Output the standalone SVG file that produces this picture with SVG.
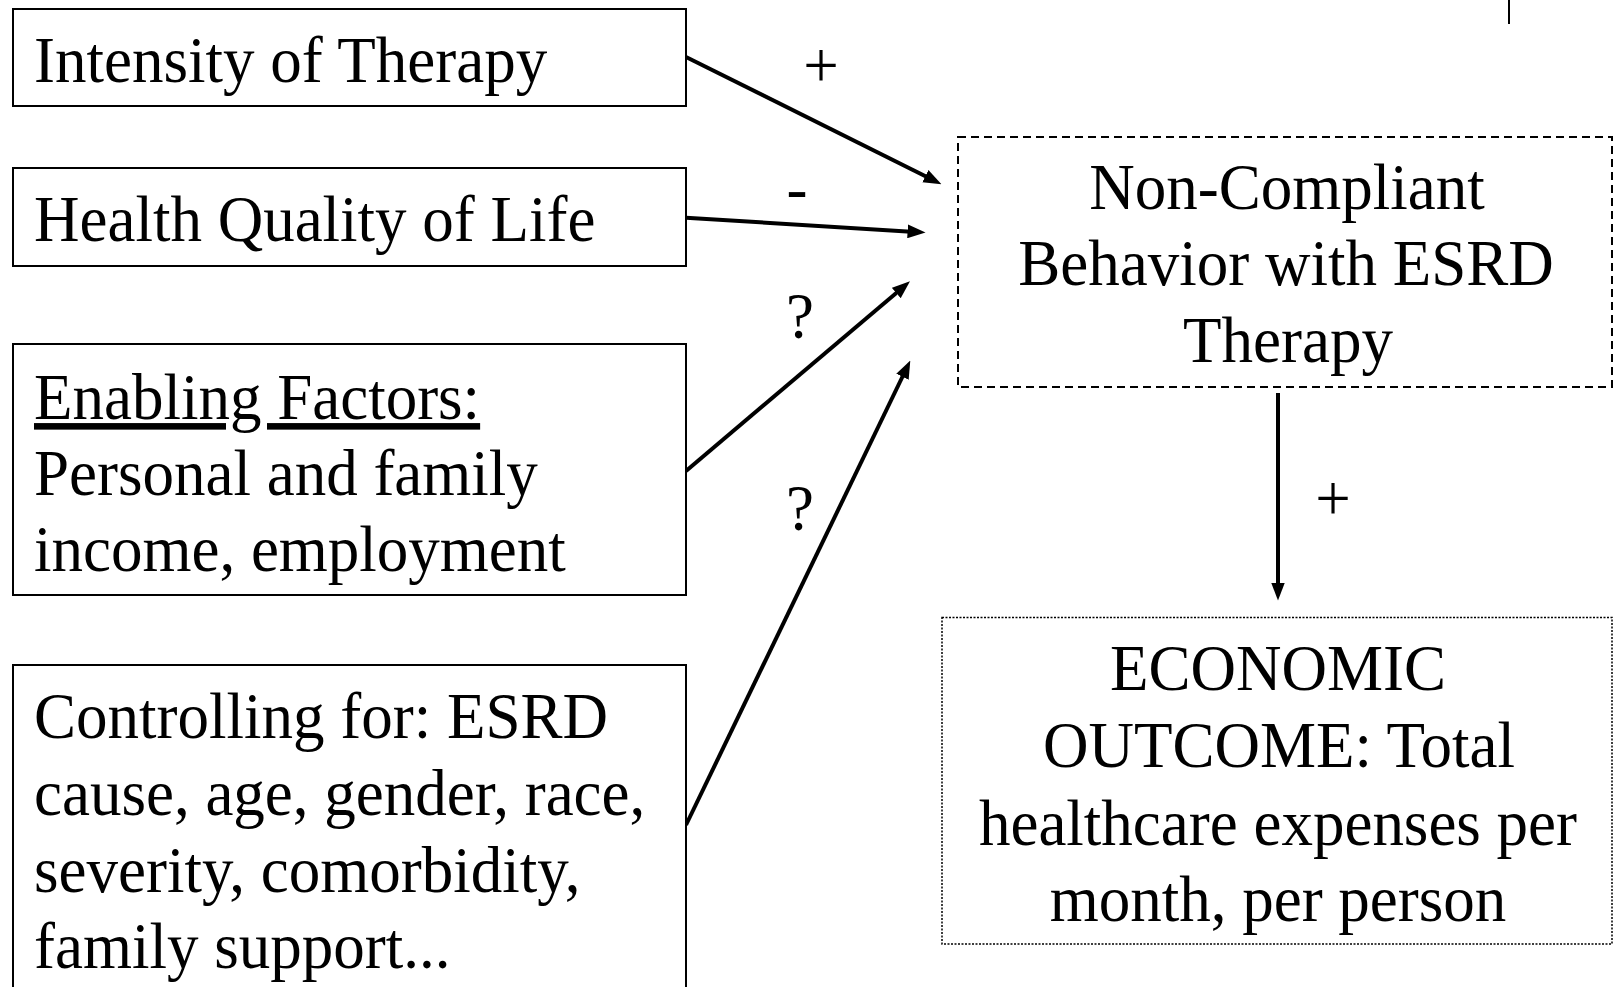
<svg xmlns="http://www.w3.org/2000/svg" width="1614" height="987" viewBox="0 0 1614 987">
<defs>
<style>
.box{fill:#fff;stroke:#000;stroke-width:2}
.dash{fill:#fff;stroke:#000;stroke-width:2;stroke-dasharray:8 5}
.dot{fill:#fff;stroke:#000;stroke-width:1.5;stroke-dasharray:2 1.5}
.t{font-family:"Liberation Serif","Times New Roman",serif;font-size:63px;fill:#000}
.c{text-anchor:middle}
.conn{stroke:#000;stroke-width:4;fill:none}
</style>
<marker id="ah" markerUnits="userSpaceOnUse" markerWidth="18" markerHeight="14" viewBox="0 0 17 13" refX="7" refY="6.5" orient="auto">
<path d="M0,0 L17,6.5 L0,13 z" fill="#000"/>
</marker>
</defs>
<rect width="1614" height="987" fill="#fff"/>
<line x1="1509" y1="0" x2="1509" y2="24" stroke="#000" stroke-width="2"/>

<g id="connectors">
<line class="conn" x1="686" y1="57" x2="932" y2="179.5" marker-end="url(#ah)"/>
<line class="conn" x1="686" y1="217.7" x2="915" y2="231.9" marker-end="url(#ah)"/>
<line class="conn" x1="686" y1="471" x2="901.9" y2="288.2" marker-end="url(#ah)"/>
<line class="conn" x1="686" y1="825" x2="905.7" y2="370" marker-end="url(#ah)"/>
<line class="conn" x1="1278" y1="393" x2="1278" y2="590" stroke-width="3.5" marker-end="url(#ah)"/>
<text class="t c" transform="translate(821,87) scale(1,1.04)">+</text>
<text class="t c" transform="translate(797,210) scale(1,1.04)">-</text>
<text class="t c" transform="translate(800,338) scale(1,1.04)">?</text>
<text class="t c" transform="translate(800,530) scale(1,1.04)">?</text>
<text class="t c" transform="translate(1333,520) scale(1,1.04)">+</text>
</g>

<g id="intensity">
<rect class="box" x="13" y="9" width="673" height="97"/>
<text class="t" transform="translate(34,82) scale(1,1.04)">Intensity of Therapy</text>
</g>

<g id="hqol">
<rect class="box" x="13" y="168" width="673" height="98"/>
<text class="t" transform="translate(34,241) scale(1,1.04)">Health Quality of Life</text>
</g>

<g id="enabling">
<rect class="box" x="13" y="344" width="673" height="251"/>
<text class="t" transform="translate(34,419) scale(1,1.04)"><tspan text-decoration="underline">Enabling Factors:</tspan></text>
<text class="t" transform="translate(34,495) scale(1,1.04)">Personal and family</text>
<text class="t" transform="translate(34,571) scale(1,1.04)">income, employment</text>
</g>

<g id="controlling">
<rect class="box" x="13" y="665" width="673" height="340"/>
<text class="t" transform="translate(34,738) scale(1,1.04)">Controlling for: ESRD</text>
<text class="t" transform="translate(34,815) scale(1,1.04)">cause, age, gender, race,</text>
<text class="t" transform="translate(34,892) scale(1,1.04)">severity, comorbidity,</text>
<text class="t" transform="translate(34,968) scale(1,1.04)">family support...</text>
</g>

<g id="noncompliant">
<rect class="dash" x="958" y="137" width="654" height="250"/>
<text class="t c" transform="translate(1287,209) scale(1,1.04)">Non-Compliant</text>
<text class="t c" transform="translate(1286,285) scale(1,1.04)">Behavior with ESRD</text>
<text class="t c" transform="translate(1288,362) scale(1,1.04)">Therapy</text>
</g>

<g id="economic">
<rect class="dot" x="942" y="617.5" width="670" height="326.5"/>
<text class="t c" transform="translate(1278,690) scale(1,1.04)">ECONOMIC</text>
<text class="t c" transform="translate(1279,767) scale(1,1.04)">OUTCOME: Total</text>
<text class="t c" transform="translate(1278,845) scale(1,1.04)">healthcare expenses per</text>
<text class="t c" transform="translate(1278,921) scale(1,1.04)">month, per person</text>
</g>
</svg>
